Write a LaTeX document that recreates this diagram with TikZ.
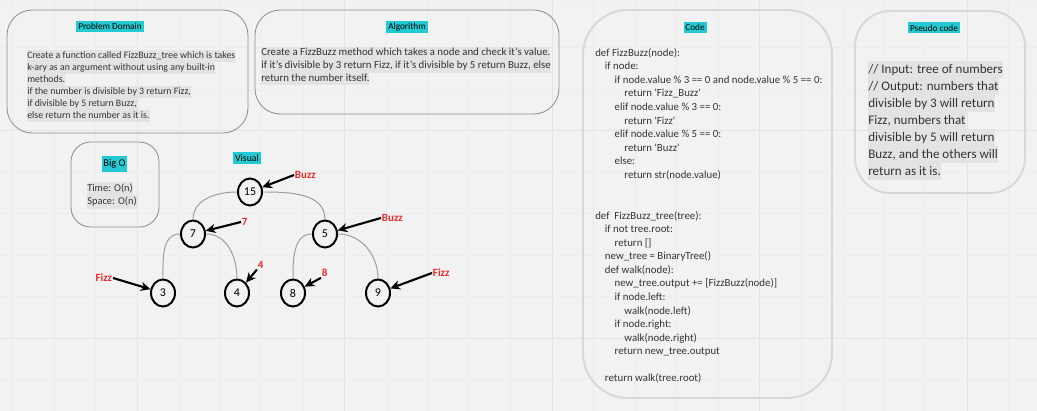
\documentclass[tikz,border=0pt]{standalone}
\usepackage{fontspec}
\setmainfont{Carlito}
\usepackage{tikz}
\usetikzlibrary{arrows.meta,positioning,shapes.geometric}

\definecolor{bgpaper}{HTML}{F2F2F2}
\definecolor{gridminor}{HTML}{ECECEC}
\definecolor{gridmajor}{HTML}{E4E4E4}
\definecolor{titlecyan}{HTML}{22CAD3}
\definecolor{hlgray}{HTML}{E3E3E3}
\definecolor{boxdark}{HTML}{8E8E8E}
\definecolor{boxlight}{HTML}{D8D8D8}
\definecolor{edgegray}{HTML}{9C9C9C}
\definecolor{notered}{HTML}{EC2A2A}
\definecolor{textgray}{HTML}{333333}

\setlength{\fboxsep}{0pt}
\newcommand{\hlline}[1]{\colorbox{hlgray}{\strut #1}}
\newcommand{\codetab}{\hspace*{6.9pt}}
\newcommand{\sq}{\textquotesingle}

\tikzset{
  panel/.style={draw=boxdark, line width=0.6pt, rounded corners=18pt},
  softpanel/.style={draw=boxlight, line width=1.4pt, rounded corners=30pt},
  heading/.style={fill=titlecyan, text=black, inner xsep=1.3pt, inner ysep=1.6pt,
    font=\fontsize{6.6}{7}\selectfont},
  prose/.style={anchor=north west, inner sep=0pt, align=left, text=textgray},
  treenode/.style={ellipse, draw=black, line width=1.4pt, fill=bgpaper,
    minimum width=0.6cm, minimum height=0.675cm, inner sep=0pt,
    font=\fontsize{8.5}{9}\selectfont},
  branch/.style={draw=edgegray, line width=0.7pt},
  result/.style={text=notered, inner sep=0.5pt, font=\bfseries\fontsize{7.8}{8}\selectfont},
  callout/.style={draw=black, line width=1.5pt, -{Stealth[length=7pt,width=6.5pt]}}
}

\begin{document}
\begin{tikzpicture}[x=0.025cm, y=-0.025cm]
  \useasboundingbox (0,0) rectangle (1037,411);
  \fill[bgpaper] (0,0) rectangle (1037,411);

  % board grid
  \foreach \k in {0,...,24} {
    \pgfmathsetmacro{\gx}{12.5+41.5*\k}
    \draw[gridminor, line width=0.5pt] (\gx,0) -- (\gx,411);
  }
  \foreach \k in {0,...,9} {
    \pgfmathsetmacro{\gy}{6+41.5*\k}
    \draw[gridminor, line width=0.5pt] (0,\gy) -- (1037,\gy);
  }
  \foreach \gx in {137,344.5,552,759.5,967}
    \draw[gridmajor, line width=0.7pt] (\gx,0) -- (\gx,411);
  \foreach \gy in {130.5,338}
    \draw[gridmajor, line width=0.7pt] (0,\gy) -- (1037,\gy);

  % problem domain
  \draw[panel] (7,10) rectangle (248,133);
  \node[heading] (probtitle) at (110,26.5) {Problem Domain};
  \node[prose, font=\fontsize{7}{8.5}\selectfont] (probtext) at (27,50) {%
    \hlline{Create a function called FizzBuzz\_tree which is takes}\\
    \hlline{k-ary as an argument without using any built-in}\\
    \hlline{methods.}\\
    \hlline{if the number is divisible by 3 return Fizz,}\\
    \hlline{if divisible by 5 return Buzz,}\\
    \hlline{else return the number as it is.}};

  % algorithm
  \draw[panel] (255,10) rectangle (559,114);
  \node[heading] (algotitle) at (407,27) {Algorithm};
  \node[prose, font=\fontsize{7.7}{9.1}\selectfont] (algotext) at (261,46.7) {%
    \hlline{Create a FizzBuzz method which takes a node and check it's value.}\\
    \hlline{if it's divisible by 3 return Fizz, if it's divisible by 5 return Buzz, else}\\
    \hlline{return the number itself.}};

  % code
  \draw[softpanel, rounded corners=32pt] (583,10) rectangle (832,398);
  \node[heading] (codetitle) at (695,27.5) {Code};
  \node[prose, font=\fontsize{7.7}{9.65}\selectfont] (codetext) at (595,48) {%
    def FizzBuzz(node):\\
    \codetab if node:\\
    \codetab\codetab if node.value \% 3 == 0 and node.value \% 5 == 0:\\
    \codetab\codetab\codetab return \sq Fizz\_Buzz\sq\\
    \codetab\codetab elif node.value \% 3 == 0:\\
    \codetab\codetab\codetab return \sq Fizz\sq\\
    \codetab\codetab elif node.value \% 5 == 0:\\
    \codetab\codetab\codetab return \sq Buzz\sq\\
    \codetab\codetab else:\\
    \codetab\codetab\codetab return str(node.value)\\
    \mbox{}\\
    \mbox{}\\
    def\ \ FizzBuzz\_tree(tree):\\
    \codetab if not tree.root:\\
    \codetab\codetab return []\\
    \codetab new\_tree = BinaryTree()\\
    \codetab def walk(node):\\
    \codetab\codetab new\_tree.output += [FizzBuzz(node)]\\
    \codetab\codetab if node.left:\\
    \codetab\codetab\codetab walk(node.left)\\
    \codetab\codetab if node.right:\\
    \codetab\codetab\codetab walk(node.right)\\
    \codetab\codetab return new\_tree.output\\
    \mbox{}\\
    \codetab return walk(tree.root)};

  % pseudo code
  \draw[softpanel, rounded corners=25pt] (855,11) rectangle (1025,193);
  \node[heading] (pseudotitle) at (934,28) {Pseudo code};
  \node[prose, font=\fontsize{9.3}{12.1}\selectfont] (pseudotext) at (868,61) {%
    \hlline{// Input: tree of numbers}\\
    \hlline{// Output: numbers that}\\
    \hlline{divisible by 3 will return}\\
    \hlline{Fizz, numbers that}\\
    \hlline{divisible by 5 will return}\\
    \hlline{Buzz, and the others will}\\
    \hlline{return as it is.}};

  % big o
  \draw[panel, rounded corners=14pt] (71,142) rectangle (159,227);
  \node[heading, font=\fontsize{7.4}{8}\selectfont, inner ysep=2.4pt] (bigotitle) at (114.5,164) {Big O};
  \node[prose, font=\fontsize{7.4}{9.5}\selectfont] (bigotext) at (87,181.7) {%
    \hlline{Time: O(n)}\\
    \hlline{Space: O(n)}};

  % visual
  \node[heading, font=\fontsize{7}{8}\selectfont] (visualtitle) at (247,158) {Visual};

  % the tree
  \node[treenode] (n15) at (250,192) {15};
  \node[treenode] (n7) at (193,234) {7};
  \node[treenode] (n5) at (325,234) {5};
  \node[treenode] (n3) at (163,293) {3};
  \node[treenode] (n4) at (237,293) {4};
  \node[treenode] (n8) at (293,293) {8};
  \node[treenode] (n9) at (378,293) {9};

  \draw[branch] (n15.west) to[out=180, in=90] (n7.north);
  \draw[branch] (n15.east) to[out=0, in=90] (n5.north);
  \draw[branch] (n7.west) to[out=180, in=90] (n3.north);
  \draw[branch] (n7.east) to[out=0, in=90] (n4.north);
  \draw[branch] (n5.west) to[out=180, in=90] (n8.north);
  \draw[branch] (n5.east) to[out=0, in=90] (n9.north);

  % results
  \node[result, anchor=west] (lb15) at (294,175) {Buzz};
  \node[result, anchor=west] (lb7) at (241,222) {7};
  \node[result, anchor=west] (lb5) at (381,218) {Buzz};
  \node[result, anchor=west] (lb4) at (257,265) {4};
  \node[result, anchor=west] (lb8) at (321,273) {8};
  \node[result, anchor=east] (lb3) at (113,278) {Fizz};
  \node[result, anchor=west] (lb9) at (432,273) {Fizz};

  \draw[callout] (lb15.west) -- (n15);
  \draw[callout] (lb7.west) -- (n7);
  \draw[callout] (lb5.west) -- (n5);
  \draw[callout] (lb4.south west) -- (n4);
  \draw[callout] (lb8.south west) -- (n8);
  \draw[callout] (lb3.east) -- (n3);
  \draw[callout] (lb9.west) -- (n9);
\end{tikzpicture}
\end{document}
